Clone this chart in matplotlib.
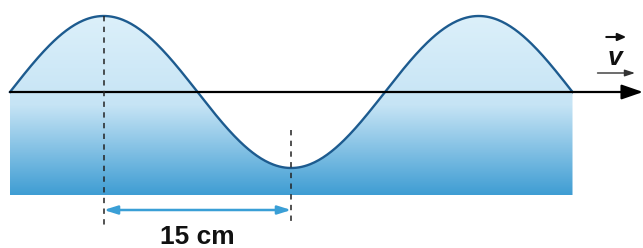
import numpy as np
import matplotlib.pyplot as plt
from matplotlib.patches import Polygon
from matplotlib.colors import LinearSegmentedColormap

# wave parameters (cm)
wavelength = 30.0
amplitude = 6.08
n_waves = 1.5
depth = 8.24
half_label = "15 cm"
crest_x = wavelength / 4
trough_x = 3 * wavelength / 4

x = np.linspace(0, n_waves * wavelength, 400)
y = amplitude * np.sin(2 * np.pi * x / wavelength)

fig = plt.figure(figsize=(6.43, 2.48), dpi=100)
ax = fig.add_axes([0, 0, 1, 1])
ax.set_xlim(-0.8, 50.64)
ax.set_ylim(-12.48, 7.36)
ax.axis("off")

# gradient water body clipped to the wave outline
cmap = LinearSegmentedColormap.from_list("water", ["#dcf0fa", "#c6e4f5", "#3f9dd3"])
grad = np.linspace(0, 1, 256).reshape(-1, 1)
im = ax.imshow(grad, cmap=cmap, extent=[0, n_waves * wavelength, -depth, amplitude],
               origin="upper", aspect="auto", zorder=1)
verts = np.column_stack([np.r_[x, x[-1], x[0]], np.r_[y, -depth, -depth]])
poly = Polygon(verts, closed=True, facecolor="none", edgecolor="none")
ax.add_patch(poly)
im.set_clip_path(poly)

ax.plot(x, y, color="#1d5b8f", lw=1.7, zorder=3)

# propagation axis
ax.annotate("", xy=(50.64, 0), xytext=(0, 0),
            arrowprops=dict(arrowstyle="-|>,head_length=1.3,head_width=0.45",
                            color="black", lw=1.6, shrinkA=0, shrinkB=0), zorder=4)

# dashed markers
ax.plot([crest_x, crest_x], [amplitude, -10.64], color="#222222", lw=1.1,
        ls=(0, (3.5, 3.5)), zorder=5)
ax.plot([trough_x, trough_x], [-3.04, -10.64], color="#222222", lw=1.1,
        ls=(0, (3.5, 3.5)), zorder=5)

# 15 cm span
ax.annotate("", xy=(crest_x, -9.44), xytext=(trough_x, -9.44),
            arrowprops=dict(arrowstyle="<|-|>,head_length=0.8,head_width=0.25",
                            color="#3a9fd6", lw=1.8, shrinkA=0, shrinkB=0), zorder=4)
ax.text(15, -11.6, half_label, ha="center", va="center", fontsize=19,
        fontweight="bold", family="Liberation Sans", color="#111111")

# velocity label
ax.text(48.4, 2.75, "v", ha="center", va="center", fontsize=19, fontweight="bold",
        fontstyle="italic", family="Liberation Sans", color="#111111")
ax.annotate("", xy=(49.3, 4.4), xytext=(47.7, 4.4),
            arrowprops=dict(arrowstyle="-|>,head_length=0.5,head_width=0.22",
                            color="#111111", lw=1.5, shrinkA=0, shrinkB=0))
ax.annotate("", xy=(50.0, 1.52), xytext=(47.0, 1.52),
            arrowprops=dict(arrowstyle="-|>,head_length=0.6,head_width=0.2",
                            color="#333333", lw=1.0, shrinkA=0, shrinkB=0))

fig.savefig("out.png", dpi=100)
